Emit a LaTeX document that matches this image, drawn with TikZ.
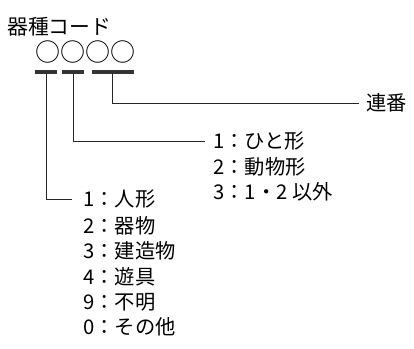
\documentclass[tikz,border=0pt]{standalone}
\usepackage{fontspec}
\setmainfont{Noto Sans CJK JP}
\begin{document}
\begin{tikzpicture}[x=0.75pt,y=-0.75pt,
  lbl/.style={inner sep=0pt, anchor=west, font=\fontsize{15.2}{18}\selectfont},
  bar/.style={fill=black!80, inner sep=0pt, minimum height=2.6pt},
  conn/.style={line width=0.7pt, draw=black!85}]
\useasboundingbox (0,0) rectangle (414,349);
\node[lbl, font=\fontsize{15.6}{18}\selectfont] (title) at (7,26.5) {器種コード};
\node[inner sep=0pt, font=\fontsize{18.75}{20}\selectfont] (code) at (85,52.5) {○○○○};
\node[bar, minimum width=16.5pt] (b1) at (46,72) {};
\node[bar, minimum width=16.5pt] (b2) at (73,72) {};
\node[bar, minimum width=31.5pt] (b3) at (112.5,72) {};
% serial
\node[lbl] (s1) at (366,103) {連番};
% second digit
\node[lbl] (m1) at (213,141) {1：ひと形};
\node[lbl] (m2) at (213,166.5) {2：動物形};
\node[lbl] (m3) at (213,192) {3：1・2 以外};
% first digit
\node[lbl] (a1) at (83,199) {1：人形};
\node[lbl] (a2) at (83,225.5) {2：器物};
\node[lbl] (a3) at (83,251) {3：建造物};
\node[lbl] (a4) at (83,276.5) {4：遊具};
\node[lbl] (a5) at (83,302) {9：不明};
\node[lbl] (a6) at (83,327) {0：その他};
\draw[conn] (b3.south) |- ([xshift=-5pt]s1.west);
\draw[conn] (b2.south) |- ([xshift=-6pt]m1.west);
\draw[conn] (b1.south) |- ([xshift=-8pt]a1.west);
\end{tikzpicture}
\end{document}
